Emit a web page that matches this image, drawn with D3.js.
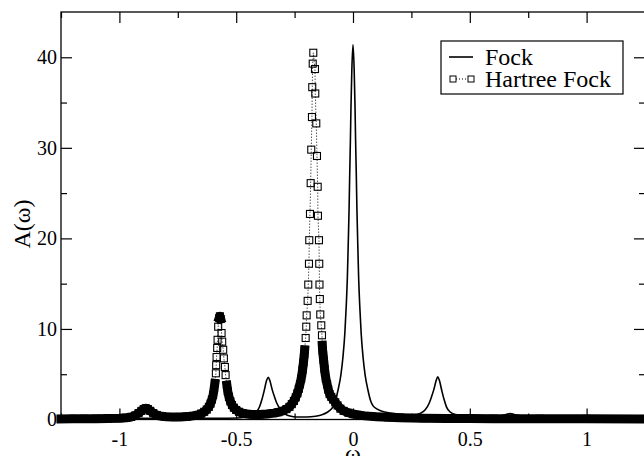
<!DOCTYPE html>
<html>
<head>
<meta charset="utf-8">
<script src="https://cdn.jsdelivr.net/npm/d3@7"></script>
<style>
body { margin: 0; background: #fff; }
text { font-family: "Liberation Serif", "Times New Roman", serif; fill: #000; }
</style>
</head>
<body>
<script>
// tick values / labels
var omegaTicks  = [-1, -0.5, 0, 0.5, 1];
var omegaLabels = ["-1", "-0.5", "0", "0.5", "1"];
var omegaMinor  = [-1.25, -0.75, -0.25, 0.25, 0.75, 1.25];
var aTicks  = [0, 10, 20, 30, 40];
var aMinor  = [5, 15, 25, 35];

// Fock (solid line)
var fockOmega = [-1.25, -1.1, -1.0, -0.9, -0.8, -0.7, -0.6, -0.5, -0.46, -0.43, -0.415,
  -0.40, -0.39, -0.38, -0.37, -0.363, -0.356, -0.346, -0.336, -0.326, -0.31, -0.29, -0.27,
  -0.24, -0.2, -0.16, -0.13, -0.11, -0.095, -0.086, -0.075, -0.064, -0.052, -0.043, -0.035,
  -0.029, -0.024, -0.020, -0.017, -0.014, -0.011, -0.0086, -0.005, 0.0, 0.005, 0.0086, 0.011,
  0.014, 0.017, 0.020, 0.024, 0.029, 0.035, 0.043, 0.052, 0.064, 0.075, 0.086, 0.1, 0.116,
  0.14, 0.16, 0.2, 0.24, 0.27, 0.29, 0.31, 0.326, 0.336, 0.346, 0.356, 0.363, 0.37, 0.38,
  0.39, 0.40, 0.415, 0.44, 0.47, 0.52, 0.58, 0.63, 0.655, 0.673, 0.69, 0.72, 0.78, 0.9,
  1.0, 1.1, 1.25];
var fockA = [0.08, 0.08, 0.1, 0.12, 0.12, 0.13, 0.14, 0.17, 0.28, 0.5, 0.8,
  1.4, 2.2, 3.2, 4.3, 4.66, 4.3, 3.3, 2.5, 1.8, 1.1, 0.6, 0.38,
  0.28, 0.28, 0.36, 0.55, 0.8, 1.1, 1.4, 2.1, 3.26, 4.9, 6.9, 9.5,
  12.5, 15.8, 19.8, 23, 27.2, 31, 34.6, 38.6, 41.4, 38.6, 34.6, 31,
  27.2, 23, 19.8, 15.8, 12.5, 9.5, 6.9, 4.9, 3.26, 2.1, 1.5, 1.2, 1.0,
  0.8, 0.7, 0.57, 0.5, 0.55, 0.7, 1.1, 1.8, 2.5, 3.3, 4.3, 4.72, 4.3, 3.2,
  2.2, 1.4, 0.85, 0.55, 0.45, 0.4, 0.38, 0.42, 0.55, 0.65, 0.55, 0.42, 0.32, 0.22,
  0.16, 0.12, 0.1];

// Hartree Fock (squares + dotted line)
var hfOmega = [-1.25, -1.20, -1.15, -1.10, -1.05, -1.00, -0.97, -0.95, -0.932, -0.918,
  -0.906, -0.896, -0.887, -0.878, -0.868, -0.855, -0.84, -0.82, -0.80, -0.77, -0.74, -0.71,
  -0.685, -0.665, -0.65, -0.637, -0.626, -0.617, -0.610, -0.604, -0.599, -0.595, -0.5913,
  -0.587, -0.5857, -0.584, -0.5814, -0.5797, -0.5771, -0.5725, -0.5698, -0.5665, -0.5626,
  -0.560, -0.5557, -0.5527, -0.5484, -0.5454, -0.5398, -0.536, -0.531, -0.525, -0.518,
  -0.51, -0.50, -0.488, -0.472, -0.455, -0.43, -0.40, -0.37, -0.34, -0.32, -0.30, -0.285,
  -0.272, -0.262, -0.253, -0.245, -0.238, -0.232, -0.227, -0.222, -0.218, -0.216, -0.214,
  -0.212, -0.210, -0.2085, -0.2069, -0.2027, -0.2001, -0.1984, -0.1941, -0.1915, -0.1885,
  -0.1872, -0.1842, -0.1812, -0.1787, -0.1757, -0.1744, -0.1725, -0.170, -0.1628, -0.1615,
  -0.1572, -0.1542, -0.1512, -0.1500, -0.1457, -0.1445, -0.1435, -0.1420, -0.1401, -0.1358,
  -0.1328, -0.1315, -0.130, -0.128, -0.126, -0.124, -0.122, -0.120, -0.116, -0.111, -0.106,
  -0.10, -0.093, -0.085, -0.076, -0.066, -0.054, -0.04, -0.02, 0.0, 0.05, 0.1, 0.15, 0.2,
  0.3, 0.4, 0.5, 0.6, 0.8, 1.0, 1.25];
var hfA = [0.06, 0.07, 0.08, 0.09, 0.11, 0.14, 0.2, 0.28, 0.45, 0.7,
  0.95, 1.15, 1.25, 1.15, 0.95, 0.7, 0.5, 0.36, 0.3, 0.27, 0.28, 0.32,
  0.4, 0.5, 0.65, 0.85, 1.1, 1.4, 1.75, 2.2, 2.7, 3.3, 4.0,
  5.1, 6.0, 6.9, 7.9, 8.8, 10.25, 11.2, 11.4, 11.1, 9.55,
  8.6, 7.7, 6.75, 5.8, 4.9, 3.8, 3.1, 2.5, 2.0, 1.6,
  1.3, 1.05, 0.85, 0.7, 0.6, 0.55, 0.55, 0.6, 0.7, 0.8, 0.95, 1.15,
  1.4, 1.7, 2.05, 2.45, 2.9, 3.4, 3.9, 4.5, 5.1, 5.5, 5.9,
  6.3, 6.8, 7.2, 7.7, 9.0, 10.25, 11.5, 13.1, 14.9, 17.2,
  19.8, 22.7, 26.1, 29.8, 33.4, 36.7, 39.3, 40.5, 38.7, 36.0,
  32.7, 29.1, 25.7, 22.5, 19.8, 17.2, 14.9, 13.3, 11.6, 10.4,
  9.3, 8.2, 7.6, 7.1, 6.6, 6.1, 5.6, 5.2, 4.5, 3.9, 3.3,
  2.8, 2.5, 2.2, 1.9, 1.55, 1.2, 0.95, 0.75, 0.6, 0.4, 0.3, 0.24, 0.2,
  0.15, 0.12, 0.1, 0.09, 0.08, 0.07, 0.06];

var W = 644, H = 456;
var mLeft = 61, mRight = 645, mTop = 12, mBottom = 419.5;

var x = d3.scaleLinear().domain([-1.25, 1.25]).range([mLeft, mRight]);
var y = d3.scaleLinear().domain([0, 45]).range([mBottom, mTop]);

var svg = d3.select("body").append("svg")
            .attr("width", W)
            .attr("height", H)
            .attr("font-family", "'Liberation Serif', serif");

// frame
svg.append("rect")
   .attr("x", mLeft).attr("y", mTop)
   .attr("width", mRight - mLeft).attr("height", mBottom - mTop)
   .attr("fill", "none").attr("stroke", "#000").attr("stroke-width", 1.3);

function noDomain(g){ g.select(".domain").remove(); }

// bottom axis: labels + inward ticks
svg.append("g").attr("transform", "translate(0," + mBottom + ")")
  .call(d3.axisBottom(x).tickValues(omegaTicks).tickSize(-11).tickPadding(12)
          .tickFormat(function(d, i){ return omegaLabels[i]; }))
  .call(noDomain);
svg.append("g").attr("transform", "translate(0," + mBottom + ")")
  .call(d3.axisBottom(x).tickValues(omegaMinor).tickSize(-6).tickFormat(""))
  .call(noDomain);
// top axis
svg.append("g").attr("transform", "translate(0," + mTop + ")")
  .call(d3.axisTop(x).tickValues(omegaTicks).tickSize(-11).tickFormat(""))
  .call(noDomain);
svg.append("g").attr("transform", "translate(0," + mTop + ")")
  .call(d3.axisTop(x).tickValues(omegaMinor).tickSize(-6).tickFormat(""))
  .call(noDomain);
// left axis
svg.append("g").attr("transform", "translate(" + mLeft + ",0)")
  .call(d3.axisLeft(y).tickValues(aTicks).tickSize(-11).tickPadding(4))
  .call(noDomain);
svg.append("g").attr("transform", "translate(" + mLeft + ",0)")
  .call(d3.axisLeft(y).tickValues(aMinor).tickSize(-6).tickFormat(""))
  .call(noDomain);
// right axis
svg.append("g").attr("transform", "translate(" + mRight + ",0)")
  .call(d3.axisRight(y).tickValues(aTicks).tickSize(-11).tickFormat(""))
  .call(noDomain);
svg.append("g").attr("transform", "translate(" + mRight + ",0)")
  .call(d3.axisRight(y).tickValues(aMinor).tickSize(-6).tickFormat(""))
  .call(noDomain);

svg.selectAll(".tick line").attr("stroke", "#000").attr("stroke-width", 1.2);
svg.selectAll(".tick text")
   .style("font-family", "'Liberation Serif', serif")
   .style("font-size", "20px")
   .attr("fill", "#000");

// axis titles
svg.append("text")
   .attr("x", x(0)).attr("y", 461)
   .attr("text-anchor", "middle")
   .style("font-size", "24px")
   .text("ω");
svg.append("text")
   .attr("transform", "translate(30,224) rotate(-90)")
   .attr("text-anchor", "middle")
   .style("font-size", "24px")
   .text("A(ω)");

// Fock curve
var fockData = fockOmega.map(function(w, i){ return [w, fockA[i]]; });
var line = d3.line()
  .x(function(d){ return x(d[0]); })
  .y(function(d){ return y(d[1]); });

svg.append("path")
   .datum(fockData)
   .attr("d", line.curve(d3.curveMonotoneX))
   .attr("fill", "none")
   .attr("stroke", "#000")
   .attr("stroke-width", 1.6);

// Hartree Fock: dotted line, overlapping markers where dense, squares
var hfData = hfOmega.map(function(w, i){ return [w, hfA[i]]; });
var hfLine = d3.line().x(function(d){ return x(d[0]); }).y(function(d){ return y(d[1]); });

svg.append("path")
   .datum(hfData)
   .attr("d", hfLine)
   .attr("fill", "none")
   .attr("stroke", "#000")
   .attr("stroke-width", 1)
   .attr("stroke-dasharray", "1,2");

// markers in the flat parts overlap into a solid band
var runs = [], run = [hfData[0]];
for (var i = 1; i < hfData.length; i++) {
  if (Math.abs(y(hfData[i][1]) - y(hfData[i-1][1])) < 8) run.push(hfData[i]);
  else { runs.push(run); run = [hfData[i]]; }
}
runs.push(run);

svg.selectAll("path.band")
   .data(runs.filter(function(r){ return r.length > 1; }))
   .enter().append("path")
   .attr("class", "band")
   .attr("d", hfLine)
   .attr("fill", "none")
   .attr("stroke", "#000")
   .attr("stroke-width", 9)
   .attr("stroke-linejoin", "round")
   .attr("stroke-linecap", "square");

var s = 7;
svg.selectAll("rect.hf")
   .data(hfData)
   .enter().append("rect")
   .attr("class", "hf")
   .attr("x", function(d){ return x(d[0]) - s/2; })
   .attr("y", function(d){ return y(d[1]) - s/2; })
   .attr("width", s).attr("height", s)
   .attr("fill", "none")
   .attr("stroke", "#000")
   .attr("stroke-width", 1.1);

// legend
var lg = svg.append("g");
lg.append("rect")
  .attr("x", 441).attr("y", 41).attr("width", 182).attr("height", 53)
  .attr("fill", "#fff").attr("stroke", "#000").attr("stroke-width", 1.2);
lg.append("line")
  .attr("x1", 449).attr("x2", 473).attr("y1", 57).attr("y2", 57)
  .attr("stroke", "#000").attr("stroke-width", 1.6);
lg.append("text").attr("x", 485).attr("y", 65).style("font-size", "24px").text("Fock");
lg.append("line")
  .attr("x1", 453).attr("x2", 471).attr("y1", 79).attr("y2", 79)
  .attr("stroke", "#000").attr("stroke-width", 1).attr("stroke-dasharray", "1,2");
lg.selectAll("rect.sym")
  .data([453, 471])
  .enter().append("rect")
  .attr("class", "sym")
  .attr("x", function(d){ return d - 3; }).attr("y", 76)
  .attr("width", 6).attr("height", 6)
  .attr("fill", "#fff").attr("stroke", "#000").attr("stroke-width", 1);
lg.append("text").attr("x", 485).attr("y", 87).style("font-size", "24px").text("Hartree Fock");
</script>
</body>
</html>
